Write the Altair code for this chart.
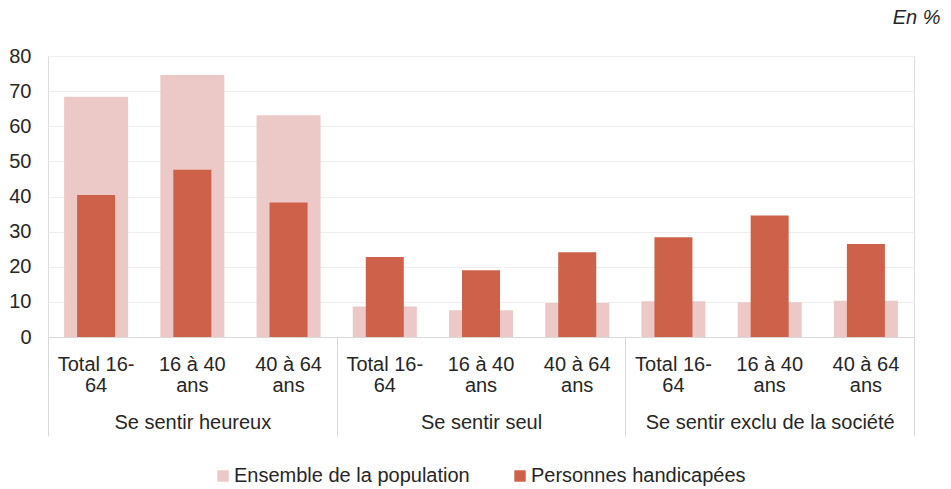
import altair as alt
import pandas as pd

groups = ["Se sentir heureux", "Se sentir seul", "Se sentir exclu de la société"]
ages = ["Total 16-~64", "16 à 40~ans", "40 à 64~ans"]
series = ["Ensemble de la population", "Personnes handicapées"]
ensemble = [68.4, 74.6, 63.1, 8.7, 7.6, 9.7, 10.2, 9.9, 10.3]
handicap = [40.4, 47.6, 38.3, 22.8, 19.0, 24.1, 28.4, 34.6, 26.5]
colors = ["#ECC9C7", "#CD6149"]

rows = []
keys = []
i = 0
for g in groups:
    for a in ages:
        k = g + "|" + a
        keys.append(k)
        rows.append({"key": k, "group": g, "series": series[0], "value": ensemble[i]})
        rows.append({"key": k, "group": g, "series": series[1], "value": handicap[i]})
        i += 1
df = pd.DataFrame(rows)
gdf = pd.DataFrame({"group": groups})

FONT = "Liberation Sans"
TXT = "#262626"
LINE = "#D9D9D9"
FS = 20

xscale = alt.Scale(paddingInner=0, paddingOuter=0)
xcat = alt.X(
    "key:N", sort=keys, scale=xscale,
    axis=alt.Axis(
        title=None, labelAngle=0, ticks=False, grid=False,
        domainColor=LINE, domainWidth=1,
        labelExpr="split(split(datum.label, '|')[1], '~')",
        labelFont=FONT, labelFontSize=FS, labelFontWeight="normal",
        labelColor=TXT, labelLimit=300,
        labelPadding=17, labelLineHeight=21, orient="bottom",
    ),
)
xcat_noaxis = alt.X("key:N", sort=keys, scale=xscale, axis=None)
yq = alt.Y(
    "value:Q",
    scale=alt.Scale(domain=[0, 80], nice=False),
    axis=alt.Axis(
        title=None, values=[0, 10, 20, 30, 40, 50, 60, 70, 80],
        domain=False, ticks=False, gridColor="#EEEEEE", gridWidth=1,
        labelFont=FONT, labelFontSize=FS, labelFontWeight="normal",
        labelColor=TXT, labelPadding=17,
    ),
)
col = alt.Color(
    "series:N",
    scale=alt.Scale(domain=series, range=colors),
    legend=alt.Legend(
        title=None, orient="none", direction="horizontal",
        legendX=165, legendY=410,
        symbolType="square", symbolSize=130, symbolStrokeWidth=0,
        labelFont=FONT, labelFontSize=20, labelColor=TXT, labelLimit=400,
        labelOffset=1, columnPadding=40, padding=0,
    ),
)

ens = alt.Chart(df).transform_filter(
    alt.datum.series == series[0]
).mark_bar(width=alt.RelativeBandSize(0.665)).encode(x=xcat, y=yq, color=col)

han = alt.Chart(df).transform_filter(
    alt.datum.series == series[1]
).mark_bar(width=alt.RelativeBandSize(0.395)).encode(x=xcat_noaxis, y=yq, color=col)

grp = alt.Chart(gdf).mark_point(opacity=0).encode(
    x=alt.X(
        "group:N", sort=groups,
        scale=alt.Scale(paddingInner=0, paddingOuter=0),
        axis=alt.Axis(
            title=None, orient="bottom", labelAngle=0, domain=False, grid=False,
            tickBand="extent", tickSize=99, tickColor=LINE, tickWidth=1,
            labelFont=FONT, labelFontSize=FS, labelFontWeight="normal",
            labelColor=TXT, labelLimit=400,
            labelPadding=-24,
        ),
    )
)

chart = alt.layer(ens, han, grp).resolve_scale(x="independent").properties(
    width=866, height=281,
    autosize=alt.AutoSizeParams(type="none"),
    padding={"left": 40, "top": 48, "right": 29, "bottom": 150},
    title=alt.Title(
        "En %", anchor="end", fontStyle="italic", fontWeight="normal",
        fontSize=FS, font=FONT, color=TXT, dx=26, offset=18,
    ),
).configure_view(stroke=None).configure(background="white")

chart.save("out.html", embed_options={"renderer": "svg", "actions": False})
